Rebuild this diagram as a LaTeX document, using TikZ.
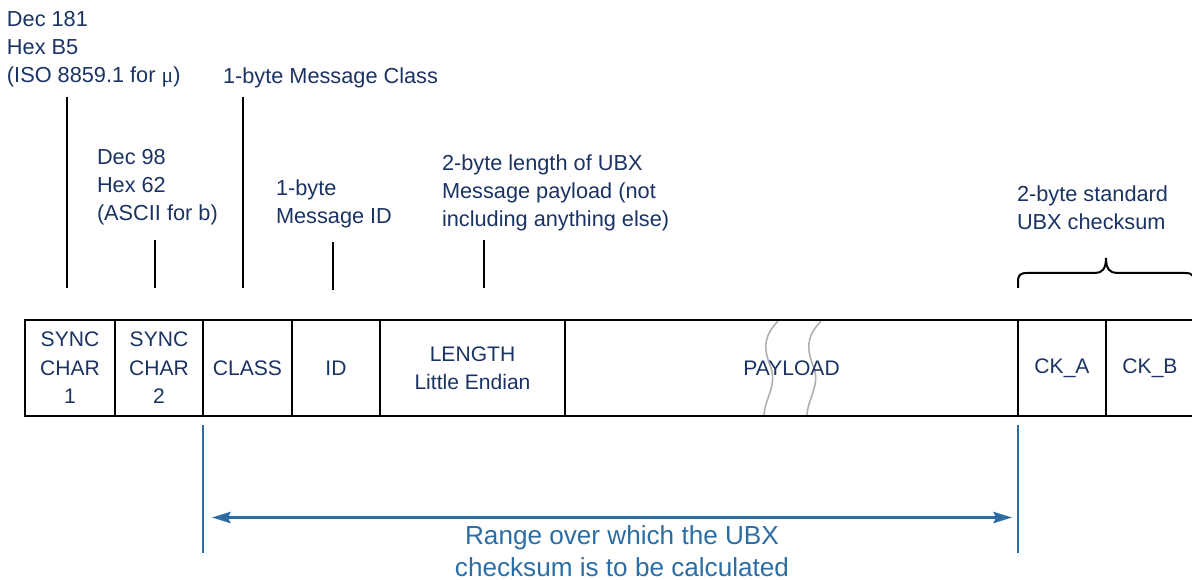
\documentclass[tikz,border=0pt]{standalone}
\usepackage{fontspec}
\setmainfont{Liberation Sans}
\newfontfamily\mufont{Liberation Serif}
\usetikzlibrary{arrows.meta,calc}
\definecolor{navy}{HTML}{1B3363}
\definecolor{rangeblue}{HTML}{2C6DA3}
\definecolor{wavegray}{HTML}{B0B0B0}
\tikzset{
  lbl/.style={anchor=north west, inner sep=0pt, outer sep=0pt, align=left, text=navy,
    font=\fontsize{16.3}{21}\selectfont},
  cell/.style={draw=black, line width=1.5pt, minimum height=72pt, inner sep=0pt, outer sep=0pt,
    align=center, text=navy, font=\fontsize{15.8}{21.3}\selectfont},
  callout/.style={draw=black, line width=1.5pt},
  rangeline/.style={draw=rangeblue, line width=1.5pt},
  wave/.style={draw=wavegray, line width=1.2pt},
}
\begin{document}
\begin{tikzpicture}[x=0.75pt,y=-0.75pt]
\useasboundingbox (0,0) rectangle (1192,580);
% top labels
\node[lbl] (l1) at (7,11) {Dec 181\\Hex B5\\(ISO 8859.1 for {\mufont μ})};
\node[lbl] (l2) at (223,68) {1-byte Message Class};
\node[lbl] (l3) at (97,149) {Dec 98\\Hex 62\\(ASCII for b)};
\node[lbl] (l4) at (276,180) {1-byte\\Message ID};
\node[lbl] (l5) at (442,155) {2-byte length of UBX\\Message payload (not\\including anything else)};
\node[lbl] (l6) at (1017,186) {2-byte standard\\UBX checksum};
% callout lines
\coordinate (a1) at (66.5,97); \coordinate (b1) at (66.5,288);
\coordinate (a2) at (243,97);  \coordinate (b2) at (243,288);
\coordinate (a3) at (154.5,240); \coordinate (b3) at (154.5,288);
\coordinate (a4) at (332.5,242); \coordinate (b4) at (332.5,290);
\coordinate (a5) at (483.5,240); \coordinate (b5) at (483.5,288);
\draw[callout] (a1) -- (b1);
\draw[callout] (a2) -- (b2);
\draw[callout] (a3) -- (b3);
\draw[callout] (a4) -- (b4);
\draw[callout] (a5) -- (b5);
% wavy break lines in payload
\coordinate (w1t) at (778,321); \coordinate (w1b) at (764,415);
\coordinate (w2t) at (821,321); \coordinate (w2b) at (807,415);
\draw[wave] (w1t) .. controls (762,338) and (764,350) .. (771,368) .. controls (777,386) and (765,398) .. (w1b);
\draw[wave] (w2t) .. controls (805,338) and (807,350) .. (814,368) .. controls (820,386) and (808,398) .. (w2b);
% cells
\node[cell, minimum width=90*0.75pt] (s1) at (70,368) {SYNC\\CHAR\\1};
\node[cell, minimum width=88*0.75pt] (s2) at (159,368) {SYNC\\CHAR\\2};
\node[cell, minimum width=89*0.75pt] (cls) at (247.5,368) {CLASS};
\node[cell, minimum width=88*0.75pt] (id) at (336,368) {ID};
\node[cell, minimum width=185*0.75pt] (len) at (472.5,368) {LENGTH\\Little Endian};
\node[cell, minimum width=453*0.75pt] (pay) at (791.5,368) {PAYLOAD};
\node[cell, minimum width=88*0.75pt] (cka) at (1062,368) {CK\_A};
\node[cell, minimum width=88*0.75pt] (ckb) at (1150,368) {CK\_B};
% brace over checksum
\coordinate (br0) at (1018,288);
\coordinate (brt) at (1106,258);
\coordinate (br1) at (1194,288);
\draw[callout] (br0) -- (1018,282) .. controls (1018,275) and (1020,273) .. (1027,273)
  -- (1095,273) .. controls (1102,273) and (1106,269) .. (brt)
  .. controls (1106,269) and (1110,273) .. (1117,273)
  -- (1185,273) .. controls (1192,273) and (1194,275) .. (1194,282) -- (br1);
% range markers
\coordinate (r0t) at ($(cls.south west)+(0,9)$);
\coordinate (r0b) at ($(cls.south west)+(0,137)$);
\coordinate (r1t) at ($(cka.south west)+(0,9)$);
\coordinate (r1b) at ($(cka.south west)+(0,137)$);
\draw[rangeline] (r0t) -- (r0b);
\draw[rangeline] (r1t) -- (r1b);
\coordinate (ra) at (212,517.5);
\coordinate (rb) at (1012,517.5);
\draw[rangeline, {Stealth[length=14pt,width=8.5pt,inset=2pt]}-{Stealth[length=14pt,width=8.5pt,inset=2pt]}] (ra) -- (rb);
\node[anchor=north, inner sep=0pt, align=center, text=rangeblue, font=\fontsize{19.6}{24.2}\selectfont]
  (rtext) at (622,525) {Range over which the UBX\\checksum is to be calculated};
\end{tikzpicture}
\end{document}
